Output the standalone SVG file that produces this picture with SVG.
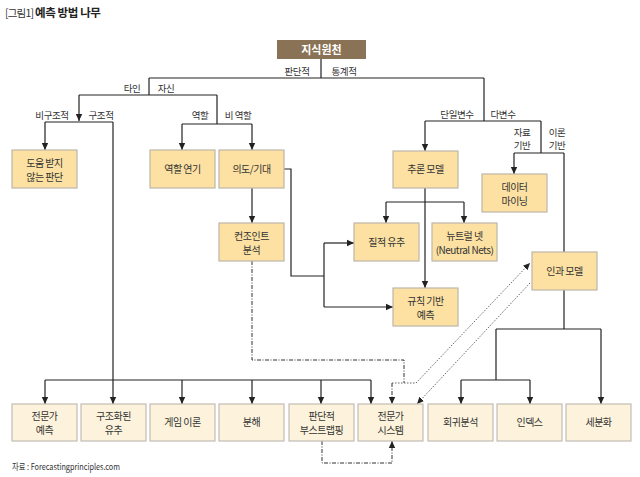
<svg xmlns="http://www.w3.org/2000/svg" width="640" height="477" viewBox="0 0 640 477">
<style>
text{font-family:"Noto Sans CJK KR","Noto Sans",sans-serif;fill:#333;}
.lbl{font-size:9.5px;text-anchor:middle;letter-spacing:-0.4px;}
.nt{font-size:10px;text-anchor:middle;letter-spacing:-0.5px;}
.mid rect{fill:#fce1a2;stroke:#bdb6aa;stroke-width:1.2;}
.bot rect{fill:#fdf3dc;stroke:#c2bdb4;stroke-width:1.2;}
.ln{fill:none;stroke:#222;stroke-width:1.2;}
.dash{fill:none;stroke:#333;stroke-width:1;stroke-dasharray:4 1.5 1 1.5;}
.dot{fill:none;stroke:#666;stroke-width:1;stroke-dasharray:1.5 1.5;}
</style>
<defs>
<marker id="ah" markerWidth="8" markerHeight="8" refX="7" refY="4" orient="auto" markerUnits="userSpaceOnUse"><path d="M0,0.8 L7,4 L0,7.2 z" fill="#222"/></marker>
</defs>
<rect width="640" height="477" fill="#fff"/>
<g id="title">
<text y="17"><tspan x="5" font-size="10.5" letter-spacing="-0.8">[그림1]</tspan><tspan x="35" font-size="11.5" font-weight="bold" letter-spacing="-0.4" fill="#222">예측 방법 나무</tspan></text>
</g>
<g id="connectors">
<path class="ln" d="M321,59 V78 M149,78 H484 M149,78 V95 M79,95 H217 M45,122 H113 M217,95 V124 M182,124 H252 M284,169 H291 V276 H324 M324,243 V307 M484,78 V121 M425,121 H541 M541,121 V153 M514,153 H564 M564,153 V252 M386,202 H464 M564,290 V329 M496,329 H601 M496,329 V380 M461,380 H530 M45,380 H371"/>
<path class="ln" marker-end="url(#ah)" d="M79,95 V121"/>
<path class="ln" marker-end="url(#ah)" d="M45,122 V150"/>
<path class="ln" marker-end="url(#ah)" d="M182,124 V150"/>
<path class="ln" marker-end="url(#ah)" d="M252,124 V150"/>
<path class="ln" marker-end="url(#ah)" d="M252,188 V223"/>
<path class="ln" marker-end="url(#ah)" d="M324,243 H354"/>
<path class="ln" marker-end="url(#ah)" d="M324,307 H393"/>
<path class="ln" marker-end="url(#ah)" d="M425,121 V151"/>
<path class="ln" marker-end="url(#ah)" d="M514,153 V174"/>
<path class="ln" marker-end="url(#ah)" d="M425,188 V288"/>
<path class="ln" marker-end="url(#ah)" d="M386,202 V223"/>
<path class="ln" marker-end="url(#ah)" d="M464,202 V223"/>
<path class="ln" marker-end="url(#ah)" d="M461,380 V404"/>
<path class="ln" marker-end="url(#ah)" d="M530,380 V404"/>
<path class="ln" marker-end="url(#ah)" d="M601,329 V404"/>
<path class="ln" marker-end="url(#ah)" d="M45,380 V404"/>
<path class="ln" marker-end="url(#ah)" d="M113,122 V404"/>
<path class="ln" marker-end="url(#ah)" d="M182,380 V404"/>
<path class="ln" marker-end="url(#ah)" d="M252,380 V404"/>
<path class="ln" marker-end="url(#ah)" d="M321,380 V404"/>
<path class="ln" marker-end="url(#ah)" d="M371,380 V404"/>
<path class="dash" d="M252,261 V360 H404 V383"/>
<path class="dot" d="M392,383 H416"/>
<path class="dash" marker-end="url(#ah)" d="M392,383 V404"/>
<path class="dot" marker-end="url(#ah)" d="M416,383 L530,263"/>
<path class="dot" marker-end="url(#ah)" d="M530,283 L417,404"/>
<path class="dash" marker-end="url(#ah)" d="M322,441 V463 H392 V441"/>
<text class="lbl" x="297" y="75">판단적</text>
<text class="lbl" x="344" y="75">통계적</text>
<text class="lbl" x="132" y="92">타인</text>
<text class="lbl" x="166" y="92">자신</text>
<text class="lbl" x="52" y="119">비구조적</text>
<text class="lbl" x="101" y="119">구조적</text>
<text class="lbl" x="200" y="119">역할</text>
<text class="lbl" x="238" y="119">비 역할</text>
<text class="lbl" x="457" y="118">단일변수</text>
<text class="lbl" x="503" y="118">다변수</text>
<text class="lbl" x="522" y="136">자료</text>
<text class="lbl" x="522" y="149">기반</text>
<text class="lbl" x="557" y="136">이론</text>
<text class="lbl" x="557" y="149">기반</text>
</g>
<g id="root"><rect x="277" y="40" width="89" height="19" fill="#8a7256"/><text x="321.5" y="54" font-size="11" font-weight="bold" text-anchor="middle" fill="#fff" style="fill:#fff">지식원천</text></g>
<g id="n-unaided" class="mid"><rect x="12" y="150" width="65" height="38"/><text class="nt" x="44.5" y="166.5">도움 받지</text><text class="nt" x="44.5" y="180.5">않는 판단</text></g>
<g id="n-roleplay" class="mid"><rect x="150" y="150" width="65" height="38"/><text class="nt" x="182.5" y="172.5">역할 연기</text></g>
<g id="n-intent" class="mid"><rect x="219" y="150" width="65" height="38"/><text class="nt" x="251.5" y="172.5">의도/기대</text></g>
<g id="n-conjoint" class="mid"><rect x="219" y="223" width="65" height="38"/><text class="nt" x="251.5" y="239.5">컨조인트</text><text class="nt" x="251.5" y="253.5">분석</text></g>
<g id="n-extrap" class="mid"><rect x="393" y="151" width="65" height="37"/><text class="nt" x="425.5" y="173">추론 모델</text></g>
<g id="n-datamining" class="mid"><rect x="482" y="174" width="65" height="38"/><text class="nt" x="514.5" y="190.5">데이터</text><text class="nt" x="514.5" y="204.5">마이닝</text></g>
<g id="n-analogies" class="mid"><rect x="354" y="223" width="65" height="38"/><text class="nt" x="386.5" y="245.5">질적 유추</text></g>
<g id="n-neural" class="mid"><rect x="432" y="223" width="65" height="38"/><text class="nt" x="464.5" y="239.5">뉴트럴 넷</text><text class="nt" x="464.5" y="253.5">(Neutral Nets)</text></g>
<g id="n-rulebased" class="mid"><rect x="393" y="288" width="65" height="38"/><text class="nt" x="425.5" y="304.5">규칙 기반</text><text class="nt" x="425.5" y="318.5">예측</text></g>
<g id="n-causal" class="mid"><rect x="532" y="252" width="65" height="38"/><text class="nt" x="564.5" y="274.5">인과 모델</text></g>
<g id="n-expertfc" class="bot"><rect x="12" y="404" width="65" height="37"/><text class="nt" x="44.5" y="420">전문가</text><text class="nt" x="44.5" y="434">예측</text></g>
<g id="n-structanalog" class="bot"><rect x="81" y="404" width="65" height="37"/><text class="nt" x="113.5" y="420">구조화된</text><text class="nt" x="113.5" y="434">유추</text></g>
<g id="n-game" class="bot"><rect x="150" y="404" width="65" height="37"/><text class="nt" x="182.5" y="426">게임 이론</text></g>
<g id="n-decomp" class="bot"><rect x="219" y="404" width="65" height="37"/><text class="nt" x="251.5" y="426">분해</text></g>
<g id="n-bootstrap" class="bot"><rect x="289" y="404" width="65" height="37"/><text class="nt" x="321.5" y="420">판단적</text><text class="nt" x="321.5" y="434">부스트랩핑</text></g>
<g id="n-expertsys" class="bot"><rect x="358" y="404" width="65" height="37"/><text class="nt" x="390.5" y="420">전문가</text><text class="nt" x="390.5" y="434">시스템</text></g>
<g id="n-regression" class="bot"><rect x="428" y="404" width="65" height="37"/><text class="nt" x="460.5" y="426">회귀분석</text></g>
<g id="n-index" class="bot"><rect x="497" y="404" width="65" height="37"/><text class="nt" x="529.5" y="426">인덱스</text></g>
<g id="n-segment" class="bot"><rect x="566" y="404" width="65" height="37"/><text class="nt" x="598.5" y="426">세분화</text></g>
<g id="source"><text x="12" y="470" font-size="9" textLength="108" lengthAdjust="spacingAndGlyphs">자료 : Forecastingprinciples.com</text></g>
</svg>
